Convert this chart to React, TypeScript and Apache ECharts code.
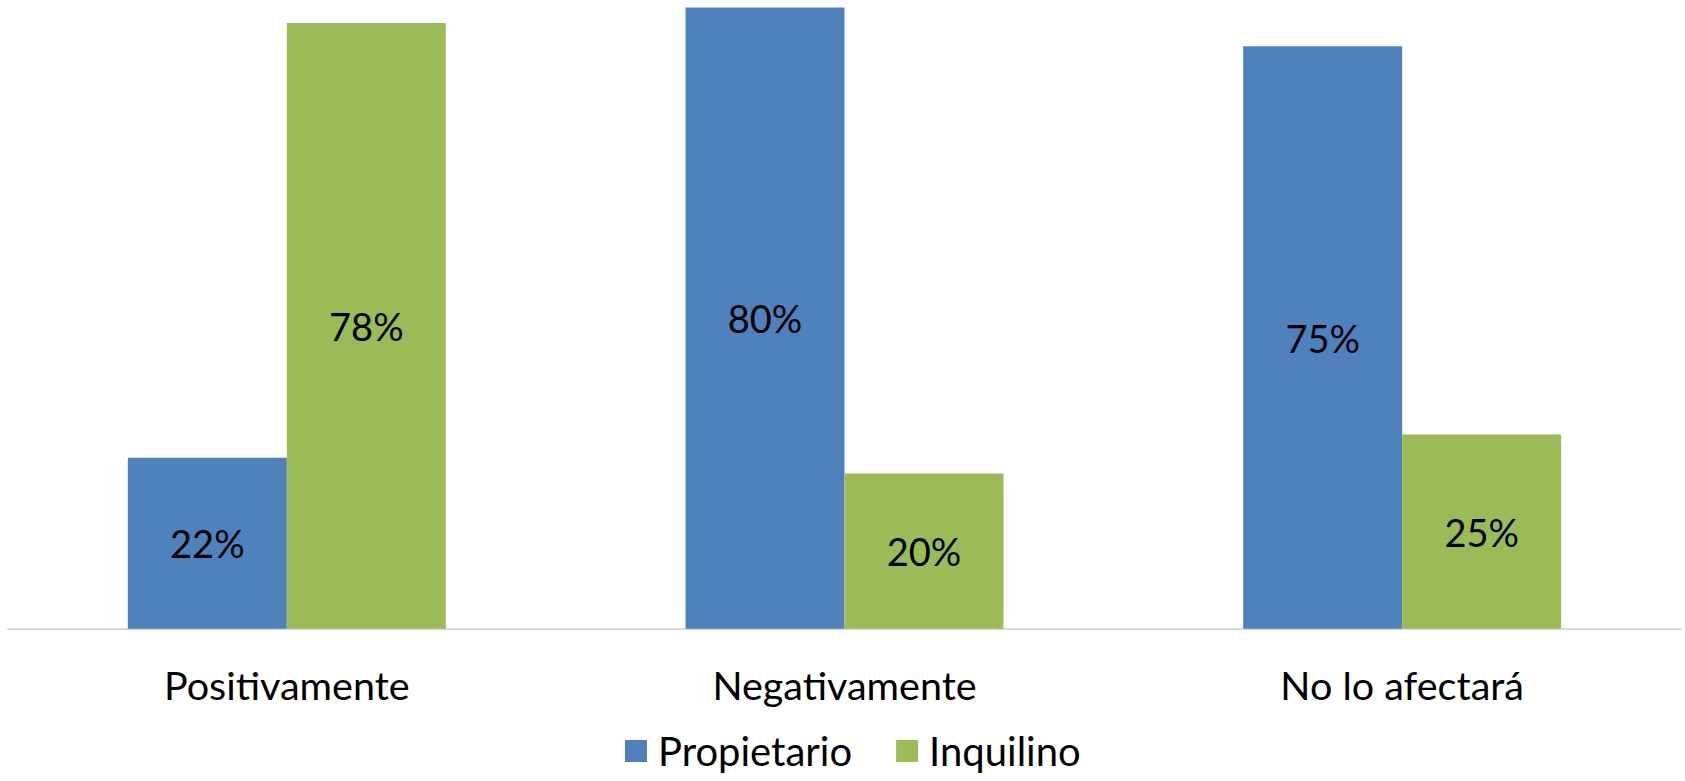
import React, { useEffect, useRef } from "react";
import * as echarts from "echarts";

const categories = ["Positivamente", "Negativamente", "No lo afectará"];
const propietario = [0.22, 0.8, 0.75];
const inquilino = [0.78, 0.2, 0.25];
const seriesNames = ["Propietario", "Inquilino"];

const FONT = "Lato";

export default function App() {
  const ref = useRef<HTMLDivElement>(null);
  useEffect(() => {
    document.body.style.margin = "0";
    const chart = echarts.init(ref.current!, null, { renderer: "svg" });
    const label = {
      show: true,
      position: "inside",
      color: "#000",
      fontFamily: FONT,
      fontSize: 38,
      formatter: (p: any) => Math.round(p.value * 100) + "%",
    };
    chart.setOption({
      animation: false,
      backgroundColor: "#fff",
      grid: { left: 8, right: 4, top: 7.5, bottom: 152.3, containLabel: false },
      legend: {
        data: seriesNames,
        left: 625,
        top: 731,
        padding: 0,
        icon: "rect",
        itemWidth: 22,
        itemHeight: 22,
        itemGap: 44,
        textStyle: { fontFamily: FONT, fontSize: 40, lineHeight: 40, color: "#000", padding: [0, 0, 0, 6] },
      },
      xAxis: {
        type: "category",
        data: categories,
        axisLine: { show: true, lineStyle: { color: "#D9D9D9", width: 2 } },
        axisTick: { show: false },
        axisLabel: { color: "#000", fontFamily: FONT, fontSize: 39.5, margin: 36 },
      },
      yAxis: {
        type: "value",
        min: 0,
        max: 0.8,
        show: false,
        splitLine: { show: false },
      },
      series: [
        {
          name: seriesNames[0],
          type: "bar",
          data: propietario,
          barWidth: 159,
          barGap: "0%",
          itemStyle: { color: "#4F81BD" },
          label,
        },
        {
          name: seriesNames[1],
          type: "bar",
          data: inquilino,
          barWidth: 159,
          barGap: "0%",
          itemStyle: { color: "#9BBB59" },
          label,
        },
      ],
    });
    return () => chart.dispose();
  }, []);
  return <div ref={ref} style={{ width: 1685, height: 781 }} />;
}
